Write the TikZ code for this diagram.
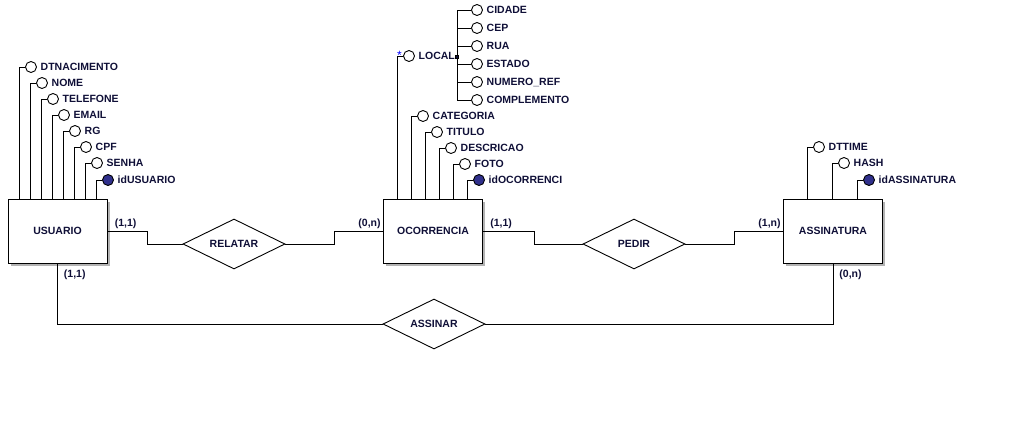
\documentclass[tikz,border=0pt]{standalone}
\usepackage{fontspec}
\setmainfont{Liberation Sans}
\usetikzlibrary{shapes, shapes.geometric, positioning, shadows}
\definecolor{ertext}{RGB}{15,15,55}
\definecolor{erkey}{RGB}{48,48,140}

\begin{document}
\begin{tikzpicture}[x=1pt, y=-1pt, line width=0.9pt,
	every node/.style={font=\fontsize{10.5}{12}\selectfont\bfseries, text=ertext},
	entity/.style={draw, fill=white, minimum width=99pt, minimum height=64pt, drop shadow={shadow xshift=2.5pt, shadow yshift=-2.5pt, opacity=0.6}},
	rel/.style={draw, diamond, aspect=2, minimum width=102pt, minimum height=50pt, inner sep=0pt, fill=white},
	attr/.style={circle, draw, fill=white, inner sep=0pt, minimum size=11pt},
	keyattr/.style={attr, fill=erkey},
	card/.style={inner sep=2pt},
	attrlink/.style={to path={-- ++(-6,0) coordinate (bend) -- (bend |- \tikztotarget)}}]
				
				\useasboundingbox (0,0) rectangle (1021,432);
				
				% entidades
				\node[entity] (usu) at (57.5,231) {USUARIO};
				\node[entity] (oco) at (433,231) {OCORRENCIA};
				\node[entity] (asn) at (833,231) {ASSINATURA};
				
				% relacionamentos
				\node[rel] (rel) at (234,244) {RELATAR};
				\node[rel] (ped) at (634,244) {PEDIR};
				\node[rel] (ass) at (434,324) {ASSINAR};
				
				\draw (usu.east) node[card, above right, xshift=5pt] {(1,1)} -- ++(40,0) |- (rel.west);
				\draw (rel.east) -- ++(49,0) |- (oco.west) node[card, above left] {(0,n)};
				\draw (oco.east) node[card, above right, xshift=5pt] {(1,1)} -- ++(51,0) |- (ped.west);
				\draw (ped.east) -- ++(49,0) |- (asn.west) node[card, above left] {(1,n)};
				\draw (usu.south) node[card, below right, xshift=4pt, yshift=-4pt] {(1,1)} |- (ass.west);
				\draw (ass.east) -| (asn.south) node[card, below right, xshift=4pt, yshift=-4pt] {(0,n)};
				
				% atributos de USUARIO
				\node[attr, label=right:{DTNACIMENTO}] (u1) at (31,67) {};
				\node[attr, label=right:{NOME}] (u2) at (42,83) {};
				\node[attr, label=right:{TELEFONE}] (u3) at (53,99) {};
				\node[attr, label=right:{EMAIL}] (u4) at (64,115) {};
				\node[attr, label=right:{RG}] (u5) at (75,131) {};
				\node[attr, label=right:{CPF}] (u6) at (86,147) {};
				\node[attr, label=right:{SENHA}] (u7) at (97,163) {};
				\node[keyattr, label=right:{idUSUARIO}] (u8) at (108,180) {};
				\draw (u1.west) to[attrlink] (usu.north);
				\draw (u2.west) to[attrlink] (usu.north);
				\draw (u3.west) to[attrlink] (usu.north);
				\draw (u4.west) to[attrlink] (usu.north);
				\draw (u5.west) to[attrlink] (usu.north);
				\draw (u6.west) to[attrlink] (usu.north);
				\draw (u7.west) to[attrlink] (usu.north);
				\draw (u8.west) to[attrlink] (usu.north);
				
				% atributos de OCORRENCIA
				\node[attr, label=right:{LOCAL}] (o1) at (409,56) {};
				\node[attr, label=right:{CATEGORIA}] (o2) at (423,116) {};
				\node[attr, label=right:{TITULO}] (o3) at (437,132) {};
				\node[attr, label=right:{DESCRICAO}] (o4) at (451,148) {};
				\node[attr, label=right:{FOTO}] (o5) at (465,164) {};
				\node[keyattr, label=right:{idOCORRENCI}] (o6) at (479,180) {};
				\draw (o1.west) to[attrlink] (oco.north);
				\draw (o2.west) to[attrlink] (oco.north);
				\draw (o3.west) to[attrlink] (oco.north);
				\draw (o4.west) to[attrlink] (oco.north);
				\draw (o5.west) to[attrlink] (oco.north);
				\draw (o6.west) to[attrlink] (oco.north);
				\node[text=blue, inner sep=0pt, font=\fontsize{12}{12}\selectfont] (star) at (399.5,55) {*};
				
				% atributo composto LOCAL
				\node[draw, fill=ertext, inner sep=0pt, minimum size=3pt] (lsq) at (457,57) {};
				\node[attr, label=right:{CIDADE}] (l1) at (477,10) {};
				\node[attr, label=right:{CEP}] (l2) at (477,28) {};
				\node[attr, label=right:{RUA}] (l3) at (477,46) {};
				\node[attr, label=right:{ESTADO}] (l4) at (477,64) {};
				\node[attr, label=right:{NUMERO\_REF}] (l5) at (477,82) {};
				\node[attr, label=right:{COMPLEMENTO}] (l6) at (477,100) {};
				\draw (l1.west) -| (lsq);
				\draw (l2.west) -| (lsq);
				\draw (l3.west) -| (lsq);
				\draw (l4.west) -| (lsq);
				\draw (l5.west) -| (lsq);
				\draw (l6.west) -| (lsq);
				
				% atributos de ASSINATURA
				\node[attr, label=right:{DTTIME}] (a1) at (819,147) {};
				\node[attr, label=right:{HASH}] (a2) at (844,163) {};
				\node[keyattr, label=right:{idASSINATURA}] (a3) at (869,180) {};
				\draw (a1.west) to[attrlink] (asn.north);
				\draw (a2.west) to[attrlink] (asn.north);
				\draw (a3.west) to[attrlink] (asn.north);
			\end{tikzpicture}
\end{document}
